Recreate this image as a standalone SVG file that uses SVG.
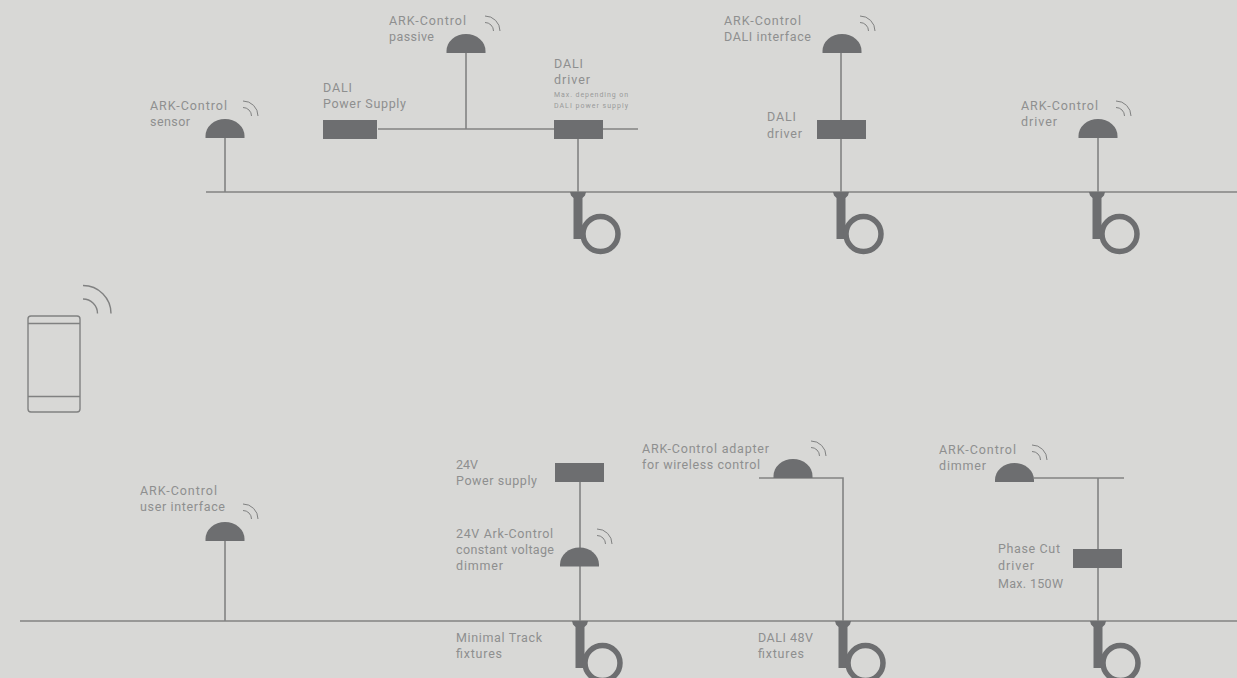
<svg xmlns="http://www.w3.org/2000/svg" width="1237" height="678" viewBox="0 0 1237 678">
<style>
text{font-family:"Roboto","Liberation Sans",sans-serif;font-size:12.5px;fill:#8e8f8f}
.s{font-size:7px;fill:#999a9a}
.l{fill:none;stroke:#828383;stroke-width:1.6}
.box{fill:#6d6e70}
.w{fill:none;stroke:#808181;stroke-width:1}
.p{fill:none;stroke:#808181;stroke-width:1.4}
</style>
<defs>
<path id="dome" class="box" d="M-19.500,0V-2A19.500,17 0 0 1 19.500,-2V0Z"/>
<g id="wave"><path class="w" d="M0,-15A15,15 0 0 1 15,0M0,-8.500A8.500,8.500 0 0 1 8.500,0"/></g>
<g id="fix">
<path class="box" d="M-8,0H8L7,3.500L4.500,6V32L8,47H-4.500V6L-7,3.500Z"/>
<circle cx="22.500" cy="42" r="17.500" fill="none" stroke="#6d6e70" stroke-width="5.500"/>
</g>
</defs>
<rect width="1237" height="678" fill="#d8d8d6"/>
<g id="connectors" class="l">
<path d="M206,192H1237M225,138V192M378,129H638M466,53V129M578,139V192M841,53V192M1098,138V192"/>
<path d="M20,621H1237M225,541V621M580,482V621M759,478H843V621M1034,478H1124M1098,478V621"/>
</g>
<g id="fixture-1"><use href="#fix" x="578" y="192"/></g>
<g id="fixture-2"><use href="#fix" x="841" y="192"/></g>
<g id="fixture-3"><use href="#fix" x="1097" y="192"/></g>
<g id="fixture-4"><use href="#fix" x="580" y="621"/></g>
<g id="fixture-5"><use href="#fix" x="843" y="621"/></g>
<g id="fixture-6"><use href="#fix" x="1098" y="621"/></g>
<g id="sensor"><use href="#dome" x="225" y="138"/><use href="#wave" x="243" y="116"/><text x="150" y="110" textLength="77">ARK-Control</text><text x="150" y="126" textLength="40">sensor</text></g>
<g id="passive"><use href="#dome" x="466" y="53"/><use href="#wave" x="485" y="31"/><text x="389" y="25" textLength="77">ARK-Control</text><text x="389" y="41" textLength="45">passive</text></g>
<g id="power-supply"><rect class="box" x="323" y="120" width="54" height="19"/><text x="323" y="92" textLength="29">DALI</text><text x="323" y="108" textLength="83">Power Supply</text></g>
<g id="driver-1"><rect class="box" x="554" y="120" width="49" height="19"/><text x="554" y="68" textLength="29">DALI</text><text x="554" y="84" textLength="36">driver</text><text class="s" x="554" y="97" textLength="74">Max. depending on</text><text class="s" x="554" y="108" textLength="74">DALI power supply</text></g>
<g id="dali-interface"><use href="#dome" x="842" y="53"/><use href="#wave" x="860" y="31"/><text x="724" y="25" textLength="77">ARK-Control</text><text x="724" y="41" textLength="87">DALI interface</text></g>
<g id="driver-2"><rect class="box" x="817" y="120" width="49" height="19"/><text x="767" y="121" textLength="29">DALI</text><text x="767" y="138" textLength="35">driver</text></g>
<g id="ark-driver"><use href="#dome" x="1098" y="138"/><use href="#wave" x="1116" y="116"/><text x="1021" y="110" textLength="77">ARK-Control</text><text x="1021" y="126" textLength="36">driver</text></g>
<g id="phone">
<rect class="p" x="28" y="316" width="52" height="96" rx="3"/><path class="p" d="M28,323.500H80M28,396.500H80"/>
<path class="p" d="M83,285.500A28,28 0 0 1 111,313.500M83,299A14.500,14.500 0 0 1 97.500,313.500"/>
</g>
<g id="user-interface"><use href="#dome" x="225" y="541"/><use href="#wave" x="243" y="519"/><text x="140" y="495" textLength="77">ARK-Control</text><text x="140" y="511" textLength="85">user interface</text></g>
<g id="power-24v"><rect class="box" x="555" y="463" width="49" height="19"/><text x="456" y="469" textLength="22">24V</text><text x="456" y="485" textLength="81">Power supply</text></g>
<g id="dimmer-24v"><use href="#dome" x="579.500" y="566.500"/><use href="#wave" x="597" y="544"/><text x="456" y="538" textLength="97">24V Ark-Control</text><text x="456" y="554" textLength="98">constant voltage</text><text x="456" y="570" textLength="47">dimmer</text></g>
<g id="adapter"><use href="#dome" x="793" y="478"/><use href="#wave" x="811" y="456"/><text x="642" y="453" textLength="127">ARK-Control adapter</text><text x="642" y="469" textLength="118">for wireless control</text></g>
<g id="dimmer"><use href="#dome" x="1014.500" y="482"/><use href="#wave" x="1032" y="460"/><text x="939" y="454" textLength="77">ARK-Control</text><text x="939" y="470" textLength="47">dimmer</text></g>
<g id="phase-cut"><rect class="box" x="1073" y="549" width="49" height="19"/><text x="998" y="553" textLength="62">Phase Cut</text><text x="998" y="570" textLength="36">driver</text><text x="998" y="588" textLength="65">Max. 150W</text></g>
<g id="minimal-track"><text x="456" y="642" textLength="86">Minimal Track</text><text x="456" y="658" textLength="46">fixtures</text></g>
<g id="dali-48v"><text x="758" y="642" textLength="55">DALI 48V</text><text x="758" y="658" textLength="46">fixtures</text></g>
</svg>
